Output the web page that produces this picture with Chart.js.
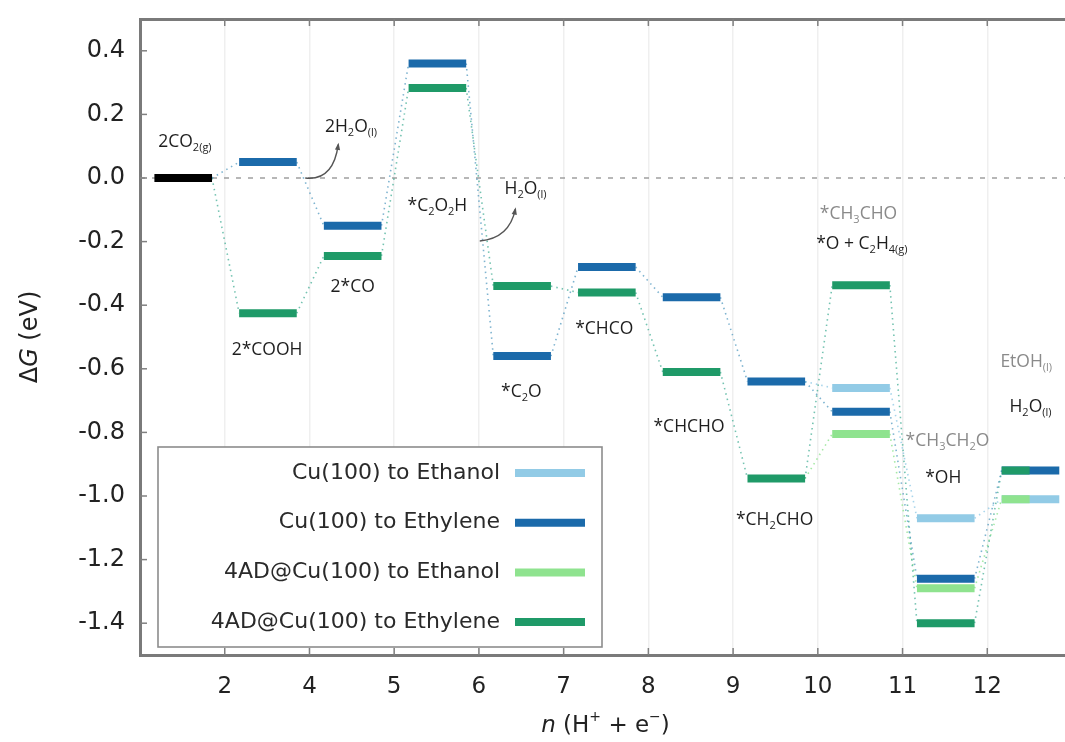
<!DOCTYPE html>
<html><head><meta charset="utf-8">
<script src="https://cdn.jsdelivr.net/npm/chart.js@4.4.0/dist/chart.umd.min.js"></script>
<style>html,body{margin:0;padding:0;background:#fff;overflow:hidden;width:1065px;height:742px}canvas{display:block}</style>
</head><body>
<canvas id="c" width="1080" height="742"></canvas>
<script>
// ---------- data ----------
const stepPositions = [1, 2, 3, 4, 5, 6, 7, 8, 9, 10, 11];
const xTickValues   = [2, 3, 4, 5, 6, 7, 8, 9, 10, 11];
const xTickLabels   = ['2', '4', '5', '6', '7', '8', '9', '10', '11', '12'];
const yTickValues   = [-1.4, -1.2, -1.0, -0.8, -0.6, -0.4, -0.2, 0.0, 0.2, 0.4];

const startState  = [0];                       // 2CO2(g)
const cuEthanol   = [0, 0.05, -0.15, 0.36, -0.56, -0.28, -0.375, -0.64, -0.66, -1.07, -1.01];
const cuEthylene  = [0, 0.05, -0.15, 0.36, -0.56, -0.28, -0.375, -0.64, -0.735, -1.26, -0.92];
const adEthanol   = [0, -0.425, -0.245, 0.283, -0.34, -0.36, -0.61, -0.945, -0.805, -1.29, -1.01];
const adEthylene  = [0, -0.425, -0.245, 0.283, -0.34, -0.36, -0.61, -0.945, -0.337, -1.40, -0.92];

const seriesNames = ['Cu(100) to Ethanol', 'Cu(100) to Ethylene', '4AD@Cu(100) to Ethanol', '4AD@Cu(100) to Ethylene'];
const seriesColors = ['#92cbe6', '#1b6aaa', '#8fe38f', '#1f9a68'];

// ---------- layout helpers ----------
const BAR_START = 0.17, BAR_END = 0.85, HALF_END = 0.5;
const ETHANOL_SPLIT = 7; // index where the ethanol pathway departs from the ethylene one

function barPoints(values, fromIdx, halfLast) {
  const pts = [];
  for (let i = fromIdx; i < values.length; i++) {
    const p = stepPositions[i];
    const x1 = (halfLast && i === values.length - 1) ? p + HALF_END : p + BAR_END;
    pts.push({x: p + BAR_START, y: values[i]}, {x: x1, y: values[i]}, {x: x1 + 0.01, y: null});
  }
  return pts;
}
function connectorPoints(values, fromIdx) {
  const pts = [];
  for (let i = fromIdx; i < values.length - 1; i++) {
    pts.push({x: stepPositions[i] + BAR_END, y: values[i]},
             {x: stepPositions[i + 1] + BAR_START, y: values[i + 1]},
             {x: stepPositions[i + 1] + BAR_START + 0.01, y: null});
  }
  return pts;
}
function barDs(data, color, order) {
  return {data, borderColor: color, borderWidth: 8, borderCapStyle: 'butt', pointRadius: 0, spanGaps: false, order, fill: false};
}
function connDs(data, color, order) {
  return {data, borderColor: color, borderWidth: 1.6, borderDash: [1.5, 4], pointRadius: 0, spanGaps: false, order, fill: false};
}

const datasets = [
  {data: [{x: 1, y: 0}, {x: 12, y: 0}], borderColor: '#a0a0a0', borderWidth: 1.5, borderDash: [5, 7], pointRadius: 0, order: 100},
  connDs(connectorPoints(cuEthanol, ETHANOL_SPLIT), seriesColors[0] + 'cc', 60),
  connDs(connectorPoints(adEthanol, ETHANOL_SPLIT), seriesColors[2] + 'cc', 60),
  connDs(connectorPoints(cuEthylene, 0), '#3f8fb8aa', 55),
  connDs(connectorPoints(adEthylene, 0), '#2fa58aaa', 55),
  barDs(barPoints(cuEthanol, ETHANOL_SPLIT + 1, false), seriesColors[0], 30),
  barDs(barPoints(cuEthylene, 1, false), seriesColors[1], 25),
  barDs(barPoints(adEthanol, ETHANOL_SPLIT + 1, true), seriesColors[2], 20),
  barDs(barPoints(adEthylene, 1, true), seriesColors[3], 15),
  barDs(barPoints(startState, 0, false), '#000000', 5)
];

// ---------- annotations ----------
const LBL = '#1e1e1e', GRY = '#8a8a8a';
const annotations = [
  {x: 1.53, y: 0.113, c: LBL, s: [['2CO'], ['2(g)', 'sub']]},
  {x: 3.49, y: 0.16,  c: LBL, s: [['2H'], ['2', 'sub'], ['O'], ['(l)', 'sub']]},
  {x: 2.50, y: -0.54, c: LBL, s: [['2*COOH']]},
  {x: 3.51, y: -0.343, c: LBL, s: [['2*CO']]},
  {x: 4.51, y: -0.088, c: LBL, s: [['*C'], ['2', 'sub'], ['O'], ['2', 'sub'], ['H']]},
  {x: 5.55, y: -0.035, c: LBL, s: [['H'], ['2', 'sub'], ['O'], ['(l)', 'sub']]},
  {x: 5.50, y: -0.674, c: LBL, s: [['*C'], ['2', 'sub'], ['O']]},
  {x: 6.48, y: -0.476, c: LBL, s: [['*CHCO']]},
  {x: 7.48, y: -0.784, c: LBL, s: [['*CHCHO']]},
  {x: 8.49, y: -1.077, c: LBL, s: [['*CH'], ['2', 'sub'], ['CHO']]},
  {x: 9.48, y: -0.113, c: GRY, s: [['*CH'], ['3', 'sub'], ['CHO']]},
  {x: 9.52, y: -0.208, c: LBL, s: [['*O + C'], ['2', 'sub'], ['H'], ['4(g)', 'sub']]},
  {x: 10.53, y: -0.828, c: GRY, s: [['*CH'], ['3', 'sub'], ['CH'], ['2', 'sub'], ['O']]},
  {x: 10.48, y: -0.945, c: LBL, s: [['*OH']]},
  {x: 11.46, y: -0.58, c: GRY, s: [['EtOH'], ['(l)', 'sub']]},
  {x: 11.51, y: -0.72, c: LBL, s: [['H'], ['2', 'sub'], ['O'], ['(l)', 'sub']]}
];
const arrows = [
  {from: [2.95, 0.0], ctrl: [3.28, -0.01], to: [3.34, 0.105]},
  {from: [5.01, -0.198], ctrl: [5.36, -0.19], to: [5.43, -0.098]}
];

const LABEL_FONT = '"Open Sans", "DejaVu Sans", sans-serif';
function segFont(kind, size, family) {
  const it = kind === 'it' ? 'italic ' : '';
  const sz = (kind === 'sub' || kind === 'sup') ? Math.round(size * 0.62) : size;
  return it + sz + 'px ' + family;
}
function drawRich(ctx, segs, cx, cy, size, family, color, align) {
  let w = 0;
  segs.forEach(s => { ctx.font = segFont(s[1], size, family); w += ctx.measureText(s[0]).width; });
  let x = align === 'center' ? cx - w / 2 : cx;
  ctx.fillStyle = color;
  ctx.textBaseline = 'middle';
  ctx.textAlign = 'left';
  segs.forEach(s => {
    ctx.font = segFont(s[1], size, family);
    let dy = 0;
    if (s[1] === 'sub') dy = size * 0.32;
    if (s[1] === 'sup') dy = -size * 0.38;
    ctx.fillText(s[0], x, cy + dy);
    x += ctx.measureText(s[0]).width;
  });
  return w;
}

const decor = {
  id: 'decor',
  afterDraw(chart) {
    const {ctx, chartArea: a, scales} = chart;
    const xs = scales.x, ys = scales.y;
    ctx.save();
    // inner tick marks
    ctx.strokeStyle = '#808080'; ctx.lineWidth = 1.5;
    yTickValues.forEach(v => {
      const py = ys.getPixelForValue(v);
      ctx.beginPath(); ctx.moveTo(a.left, py); ctx.lineTo(a.left + 7, py); ctx.stroke();
    });
    xTickValues.forEach(v => {
      const px = xs.getPixelForValue(v);
      ctx.beginPath(); ctx.moveTo(px, a.bottom); ctx.lineTo(px, a.bottom - 7); ctx.stroke();
      ctx.beginPath(); ctx.moveTo(px, a.top); ctx.lineTo(px, a.top + 7); ctx.stroke();
    });
    // annotations
    annotations.forEach(an => {
      drawRich(ctx, an.s, xs.getPixelForValue(an.x), ys.getPixelForValue(an.y), 17.5, LABEL_FONT, an.c, 'center');
    });
    // arrows
    ctx.strokeStyle = '#555'; ctx.fillStyle = '#555'; ctx.lineWidth = 1.4;
    arrows.forEach(ar => {
      const fx = xs.getPixelForValue(ar.from[0]), fy = ys.getPixelForValue(ar.from[1]);
      const cx = xs.getPixelForValue(ar.ctrl[0]), cy = ys.getPixelForValue(ar.ctrl[1]);
      const tx = xs.getPixelForValue(ar.to[0]), ty = ys.getPixelForValue(ar.to[1]);
      ctx.beginPath(); ctx.moveTo(fx, fy); ctx.quadraticCurveTo(cx, cy, tx, ty); ctx.stroke();
      const ang = Math.atan2(ty - cy, tx - cx);
      ctx.beginPath();
      ctx.moveTo(tx + 2 * Math.cos(ang), ty + 2 * Math.sin(ang));
      ctx.lineTo(tx - 6 * Math.cos(ang - 0.45), ty - 6 * Math.sin(ang - 0.45));
      ctx.lineTo(tx - 6 * Math.cos(ang + 0.45), ty - 6 * Math.sin(ang + 0.45));
      ctx.closePath(); ctx.fill();
    });
    // legend
    const bx = a.left + 18, by = a.bottom - 208, bw = 444, bh = 200;
    ctx.fillStyle = '#fff'; ctx.fillRect(bx, by, bw, bh);
    ctx.strokeStyle = '#8c8c8c'; ctx.lineWidth = 1.6; ctx.strokeRect(bx, by, bw, bh);
    seriesNames.forEach((name, i) => {
      const cy = by + 26 + i * 49.7;
      ctx.font = '22px "DejaVu Sans", sans-serif';
      ctx.fillStyle = '#2a2a2a'; ctx.textAlign = 'right'; ctx.textBaseline = 'middle';
      ctx.fillText(name, bx + 342, cy);
      ctx.strokeStyle = seriesColors[i]; ctx.lineWidth = 8; ctx.lineCap = 'butt';
      ctx.beginPath(); ctx.moveTo(bx + 357, cy); ctx.lineTo(bx + 427, cy); ctx.stroke();
    });
    // axis titles
    drawRich(ctx, [['n', 'it'], [' (H'], ['+', 'sup'], [' + e'], ['\u2212', 'sup'], [')']],
      (a.left + 1065) / 2 + 3, 726, 23, '"DejaVu Sans", sans-serif', '#222', 'center');
    ctx.save();
    ctx.translate(31, (a.top + a.bottom) / 2);
    ctx.rotate(-Math.PI / 2);
    drawRich(ctx, [['\u0394'], ['G', 'it'], [' (eV)']], 0, 0, 24, '"DejaVu Sans", sans-serif', '#222', 'center');
    ctx.restore();
    ctx.restore();
  }
};

new Chart(document.getElementById('c'), {
  type: 'line',
  data: {datasets},
  options: {
    responsive: false,
    animation: false,
    devicePixelRatio: 1,
    layout: {padding: {top: 0, right: 8, bottom: 0, left: 0}},
    plugins: {legend: {display: false}, tooltip: {enabled: false}},
    scales: {
      x: {
        type: 'linear', min: 1, max: 12, position: 'bottom',
        afterFit: s => { s.height = 87; s.paddingLeft = 0; s.paddingRight = 0; },
        afterBuildTicks: s => { s.ticks = xTickValues.map(v => ({value: v})); },
        ticks: {
          padding: 18, color: '#222', font: {family: '"DejaVu Sans", sans-serif', size: 23},
          callback: (v) => { const i = xTickValues.indexOf(v); return i >= 0 ? xTickLabels[i] : ''; },
          maxRotation: 0, autoSkip: false
        },
        grid: {color: '#efefef', lineWidth: 1.5, drawTicks: false},
        border: {color: '#7a7a7a', width: 3}
      },
      x2: {
        type: 'linear', min: 1, max: 12, position: 'top',
        afterFit: s => { s.height = 19; s.paddingLeft = 0; s.paddingRight = 0; },
        ticks: {display: false},
        grid: {drawOnChartArea: false, drawTicks: false},
        border: {color: '#7a7a7a', width: 3}
      },
      y: {
        type: 'linear', min: -1.5, max: 0.5,
        afterFit: s => { s.width = 140; s.paddingTop = 0; s.paddingBottom = 0; },
        afterBuildTicks: s => { s.ticks = yTickValues.map(v => ({value: v})); },
        ticks: {
          padding: 15, color: '#222', font: {family: '"DejaVu Sans", sans-serif', size: 24},
          callback: v => v.toFixed(1)
        },
        grid: {display: false, drawTicks: false},
        border: {color: '#7a7a7a', width: 3}
      }
    }
  },
  plugins: [decor]
});
</script>
</body></html>
